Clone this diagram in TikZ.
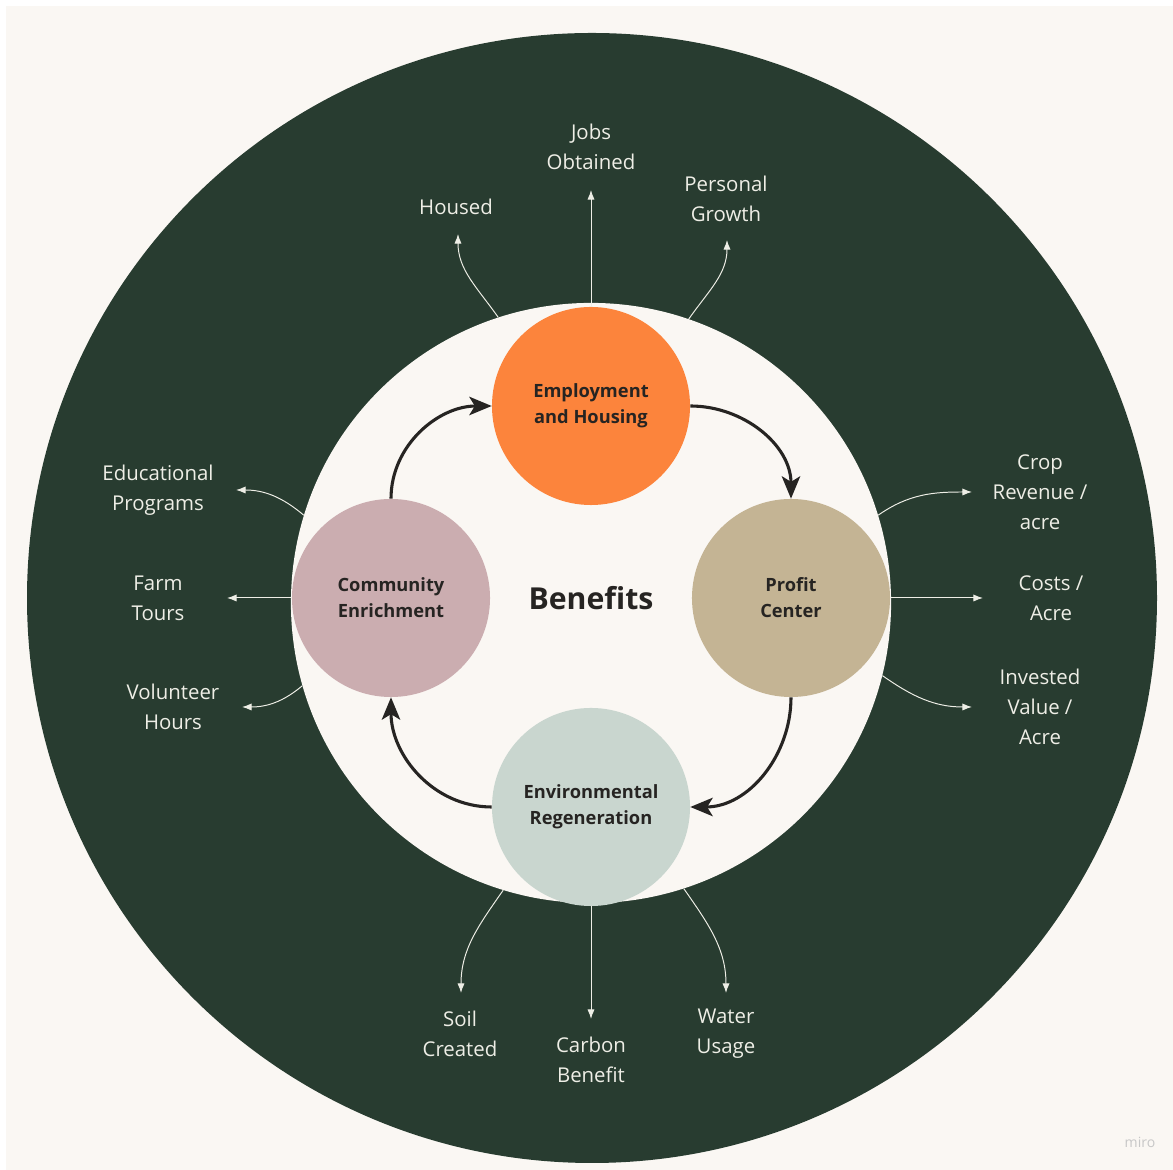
\documentclass[tikz,border=0pt]{standalone}
\usepackage{fontspec}
\setmainfont{Open Sans}
\usetikzlibrary{arrows.meta}
\definecolor{forest}{RGB}{40,60,48}
\definecolor{cream}{RGB}{250,247,243}
\definecolor{ember}{RGB}{252,132,60}
\definecolor{sand}{RGB}{196,180,148}
\definecolor{blush}{RGB}{203,173,176}
\definecolor{sage}{RGB}{201,214,207}
\definecolor{ink}{RGB}{38,36,34}
\definecolor{chalk}{RGB}{238,238,230}
\begin{document}
\begin{tikzpicture}[x=0.025cm, y=0.025cm,
    hub/.style = {circle, inner sep=0pt, minimum size=4.95cm, align=center, text=ink, font=\fontsize{13}{18.5}\selectfont\bfseries},
    lbl/.style = {align=center, text=chalk, inner sep=0pt, font=\fontsize{14.5}{21.3}\selectfont},
    flow/.style = {line width=2.2pt, ink, -{Stealth[length=5.6mm,width=4.6mm,inset=1.4mm]}},
    spoke/.style = {line width=0.7pt, chalk, -{Latex[length=2.4mm,width=1.8mm]}}]
    \fill[white] (0,0) rectangle (1173,1170);
    \fill[cream] (6,0) rectangle (1173,1164);
    \fill[forest] (592,572) circle[radius=565];
    \node[circle, fill=cream, inner sep=0pt, minimum size=15cm] (core) at (591,567) {};
    \node[hub, fill=ember] (employ) at (591,764) {Employment\\and Housing};
    \node[hub, fill=sand] (profit) at (791,572) {Profit\\Center};
    \node[hub, fill=sage] (enviro) at (591,363) {Environmental\\Regeneration};
    \node[hub, fill=blush] (community) at (391,572) {Community\\Enrichment};
    \node[text=ink, font=\fontsize{21.5}{26}\selectfont\bfseries] (title) at (591,572) {Benefits};
    %cycle
    \draw[flow] (employ.east) to[out=0, in=90] (profit.north);
    \draw[flow] (profit.south) to[out=-90, in=0] (enviro.east);
    \draw[flow] (enviro.west) to[out=180, in=-90] (community.south);
    \draw[flow] (community.north) to[out=90, in=180] (employ.west);
    %outcomes
    \node[lbl] (housed) at (456,963) {Housed};
    \node[lbl] (jobs) at (591,1023) {Jobs\\Obtained};
    \node[lbl] (growth) at (726,971) {Personal\\Growth};
    \node[lbl] (revenue) at (1040,678) {Crop\\Revenue /\\acre};
    \node[lbl] (costs) at (1051,572) {Costs /\\Acre};
    \node[lbl] (invested) at (1040,463) {Invested\\Value /\\Acre};
    \node[lbl] (education) at (158,680) {Educational\\Programs};
    \node[lbl] (tours) at (158,572) {Farm\\Tours};
    \node[lbl] (volunteer) at (173,463) {Volunteer\\Hours};
    \node[lbl] (soil) at (460,136) {Soil\\Created};
    \node[lbl] (carbon) at (591,110) {Carbon\\Benefit};
    \node[lbl] (water) at (726,136) {Water\\Usage};
    \coordinate (housedTip) at (458,936);
    \coordinate (jobsTip) at (591,980);
    \coordinate (growthTip) at (727,930);
    \coordinate (revenueTip) at (972,678);
    \coordinate (costsTip) at (983,572);
    \coordinate (investedTip) at (972,463);
    \coordinate (educationTip) at (236,680);
    \coordinate (toursTip) at (227,572);
    \coordinate (volunteerTip) at (242,463);
    \coordinate (soilTip) at (461,177);
    \coordinate (carbonTip) at (591,151);
    \coordinate (waterTip) at (726,177);
    \draw[spoke] (core.108.4) to[out=125, in=-90] (housedTip);
    \draw[spoke] (employ.north) -- (jobsTip);
    \draw[spoke] (core.71.1) to[out=55, in=-90] (growthTip);
    \draw[spoke] (core.17.5) to[out=35, in=180] (revenueTip);
    \draw[spoke] (profit.east) -- (costsTip);
    \draw[spoke] (core.-14.9) to[out=-35, in=180] (investedTip);
    \draw[spoke] (core.163.7) to[out=140, in=0] (educationTip);
    \draw[spoke] (community.west) -- (toursTip);
    \draw[spoke] (core.196.3) to[out=220, in=0] (volunteerTip);
    \draw[spoke] (core.253) to[out=235, in=90] (soilTip);
    \draw[spoke] (enviro.south) -- (carbonTip);
    \draw[spoke] (core.288.5) to[out=305, in=90] (waterTip);
    \node[text=black!22, font=\fontsize{10}{12}\selectfont] (miro) at (1140,28) {miro};
\end{tikzpicture}
\end{document}
